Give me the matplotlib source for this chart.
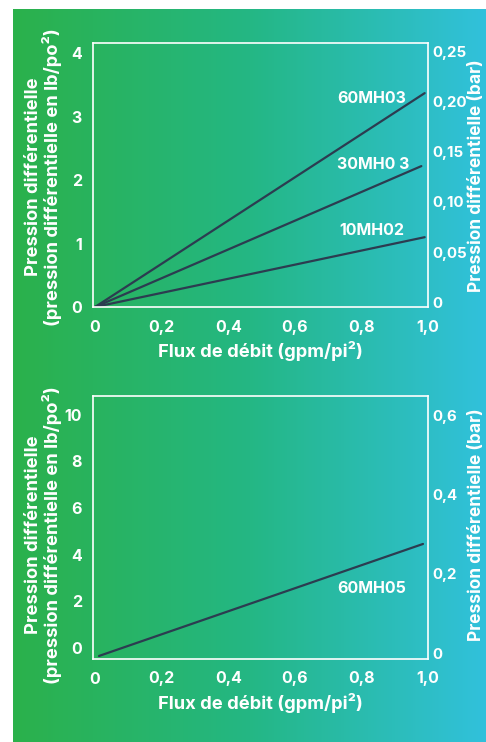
import numpy as np
import matplotlib
matplotlib.use("Agg")
import matplotlib.pyplot as plt
from matplotlib.colors import LinearSegmentedColormap

plt.rcParams['font.family'] = ['Inter', 'DejaVu Sans']
plt.rcParams['font.weight'] = 'bold'

# données
x_ticks = [0, 0.2, 0.4, 0.6, 0.8, 1.0]
x_labels = ["0", "0,2", "0,4", "0,6", "0,8", "1,0"]

haut_psi_ticks = [0, 1, 2, 3, 4]
haut_bar_ticks = [0, 0.05, 0.10, 0.15, 0.20, 0.25]
haut_bar_labels = ["0", "0,05", "0,10", "0,15", "0,20", "0,25"]

bas_psi_ticks = [0, 2, 4, 6, 8, 10]
bas_bar_ticks = [0, 0.2, 0.4, 0.6]
bas_bar_labels = ["0", "0,2", "0,4", "0,6"]

noms_haut = ["60MH03", "30MH0 3", "10MH02"]
x_haut = [[0, 0.99], [0, 0.98], [0, 0.99]]
y_haut = [[0, 3.37], [0, 2.22], [0, 1.10]]
pos_noms_haut = [(0.83, 3.28), (0.835, 2.24), (0.83, 1.20)]

noms_bas = ["60MH05"]
x_bas = [[0.012, 0.985]]
y_bas = [[-0.34, 4.46]]
pos_noms_bas = [(0.83, 2.57)]

W, H = 486, 742
fig = plt.figure(figsize=(W / 100, H / 100), dpi=100, facecolor="white")

# fond dégradé vert -> cyan
bg = fig.add_axes([13 / W, 0, 1 - 13 / W, 1 - 9 / H])
cmap = LinearSegmentedColormap.from_list("vc", ["#2bb14b", "#24b784", "#31c1dc"])
bg.imshow(np.linspace(0, 1, 256).reshape(1, -1), aspect="auto", cmap=cmap,
          extent=[0, 1, 0, 1])
bg.axis("off")

blanc = "white"
ligne = "#2c3c50"
fs_ticks = 11.5
fs_label = 13.2
fs_nom = 11.5


def panneau(rect, ylim_g, ylim_d, ticks_g, ticks_d, labels_d, xs, ys, noms, pos,
            yc_g, yc_d):
    ax = fig.add_axes(rect)
    ax.patch.set_alpha(0)
    for xx, yy in zip(xs, ys):
        ax.plot(xx, yy, color=ligne, lw=1.6, solid_capstyle="round")
    for nom, (tx, ty) in zip(noms, pos):
        ax.text(tx, ty, nom, color=blanc, fontsize=fs_nom, ha="center", va="center",
                fontweight="bold")
    ax.set_xlim(-0.006, 1.0)
    ax.set_ylim(*ylim_g)
    ax.set_xticks(x_ticks)
    ax.set_xticklabels(x_labels)
    ax.set_yticks(ticks_g)
    ax.tick_params(length=0, colors=blanc, labelsize=fs_ticks)
    ax.tick_params(axis="y", pad=8)
    ax.tick_params(axis="x", pad=9)
    for s in ax.spines.values():
        s.set_color(blanc)
        s.set_linewidth(1.2)
    ax.set_xlabel("Flux de débit (gpm/pi²)", color=blanc, fontsize=fs_label,
                  fontweight="bold", labelpad=5)

    ax2 = ax.twinx()
    ax2.set_ylim(*ylim_d)
    ax2.set_yticks(ticks_d)
    ax2.set_yticklabels(labels_d)
    ax2.tick_params(length=0, colors=blanc, labelsize=10.8, pad=3)
    for s in ax2.spines.values():
        s.set_visible(False)

    fig.text(44 / W, 1 - yc_g / H,
             "Pression différentielle\n(pression différentielle en lb/po²)",
             rotation=90, ha="center", va="center", color=blanc, fontsize=fs_label,
             fontweight="bold", linespacing=1.0)
    fig.text(476.5 / W, 1 - yc_d / H, "Pression différentielle (bar)", rotation=90,
             ha="center", va="center", color=blanc, fontsize=12.5,
             fontweight="bold")
    return ax


panneau([93 / W, 1 - 307 / H, 335 / W, 264 / H], (0, 4.16), (-0.005, 0.259),
        haut_psi_ticks, haut_bar_ticks, haut_bar_labels,
        x_haut, y_haut, noms_haut, pos_noms_haut, 177, 176)

panneau([93 / W, 1 - 659 / H, 335 / W, 263 / H], (-0.47, 10.8), (-0.015, 0.65),
        bas_psi_ticks, bas_bar_ticks, bas_bar_labels,
        x_bas, y_bas, noms_bas, pos_noms_bas, 535, 525)

fig.savefig("out.png", dpi=100, facecolor="white")
